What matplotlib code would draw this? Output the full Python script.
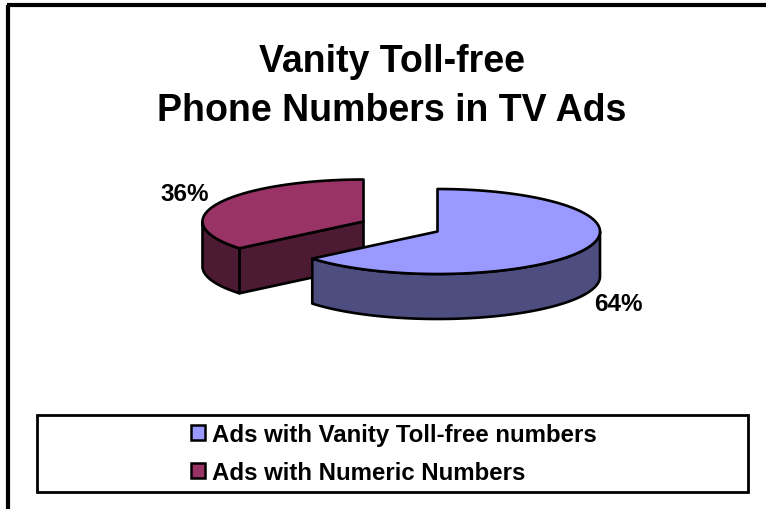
import numpy as np
import matplotlib
matplotlib.use("Agg")
import matplotlib.pyplot as plt
from matplotlib.patches import Polygon, Rectangle, Patch

plt.rcParams['font.family'] = ['Liberation Sans', 'DejaVu Sans']

TITLE = "Vanity Toll-free\nPhone Numbers in TV Ads"
labels = ["Ads with Vanity Toll-free numbers", "Ads with Numeric Numbers"]
values = [64, 36]
top_colors = ["#9999FF", "#993366"]
side_colors = ["#4D4D80", "#4D1A33"]

W, H = 766, 510
fig = plt.figure(figsize=(W / 100, H / 100), dpi=100)
ax = fig.add_axes([0, 0, 1, 1])
ax.set_xlim(0, W)
ax.set_ylim(H, 0)
ax.axis("off")

# outer chart border (top and left only are visible in the reference crop)
ax.plot([8, 8], [H, 6], color="black", lw=3, solid_capstyle="butt", zorder=1)
ax.plot([6.5, W], [6, 6], color="black", lw=3, solid_capstyle="butt", zorder=1)

LW = 1.9
DEPTH = 45


def pt(c, r, a):
    """a = degrees clockwise from 12 o'clock, on the tilted ellipse"""
    a = np.radians(a)
    return np.column_stack([c[0] + r[0] * np.sin(a), c[1] - r[1] * np.cos(a)])


def draw_slice(start, end, c, r, top, side, z):
    arc = pt(c, r, np.linspace(start, end, 240))
    ctr = np.array([c])
    down = np.array([0, DEPTH])
    # cut faces that turn towards the viewer
    faces = []
    if 180 < start < 360:
        faces.append(start)
    if 0 < end < 180:
        faces.append(end)
    for a in faces:
        edge = pt(c, r, np.array([a]))
        ax.add_patch(Polygon(np.vstack([ctr, edge, edge + down, ctr + down]), closed=True,
                             fc=side, ec="black", lw=LW, joinstyle="round", zorder=z))
    # outer wall: the part of the rim in front (90..270 degrees)
    lo, hi = max(start, 90), min(end, 270)
    if lo < hi:
        rim = pt(c, r, np.linspace(lo, hi, 200))
        ax.add_patch(Polygon(np.vstack([rim, (rim + down)[::-1]]), closed=True,
                             fc=side, ec="black", lw=LW, joinstyle="round", zorder=z))
    ax.add_patch(Polygon(np.vstack([ctr, arc]), closed=True,
                         fc=top, ec="black", lw=LW, joinstyle="round", zorder=z + 0.5))


shares = 360 * np.array(values, dtype=float) / sum(values)
edges = np.concatenate([[0], np.cumsum(shares)])

# (centre, radii) are the exploded slice positions
draw_slice(edges[1], edges[2], (363.5, 222.5), (161, 42), top_colors[1], side_colors[1], 2)
draw_slice(edges[0], edges[1], (437.5, 232.5), (162.5, 42.5), top_colors[0], side_colors[0], 4)

ax.text(392, 86.5, TITLE, ha="center", va="center", fontsize=27, fontweight="bold",
        linespacing=1.45, color="black")
ax.text(618, 305, f"{values[0]}%", ha="center", va="center", fontsize=17.5, fontweight="bold")
ax.text(185, 195, f"{values[1]}%", ha="center", va="center", fontsize=17.5, fontweight="bold")

# legend box
ax.add_patch(Rectangle((37, 416), 711, 77, fc="white", ec="black", lw=2, zorder=5))
handles = [Patch(fc=c, ec="black", lw=1.8) for c in top_colors]
leg = ax.legend(handles, labels, loc="center", bbox_to_anchor=(394, 454.5),
                bbox_transform=ax.transData, frameon=False,
                prop={"weight": "bold", "size": 17.3}, handlelength=0.58, handleheight=0.62,
                handletextpad=0.3, labelspacing=0.62, borderpad=0, borderaxespad=0)
leg.set_zorder(6)

fig.savefig("out.png", dpi=100, facecolor="white")
